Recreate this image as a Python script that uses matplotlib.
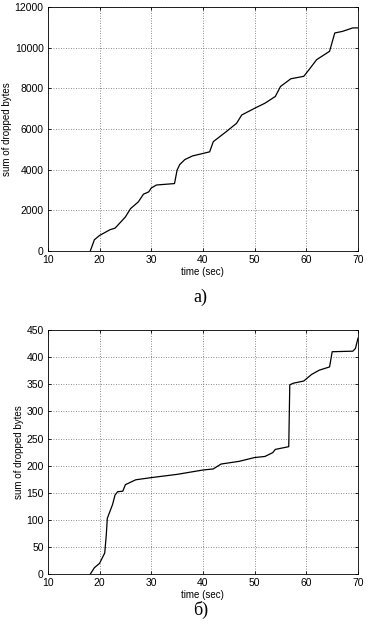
import matplotlib.pyplot as plt

# ---------------------------------------------------------
# data
# ---------------------------------------------------------
time_a = [18.2, 19.0, 20.0, 22.0, 23.0, 25.0, 26.0, 27.5, 28.5, 29.5, 30.0,
          31.0, 34.5, 35.0, 35.5, 36.5, 38.0, 40.0, 41.3, 42.0, 44.5, 46.5,
          47.5, 50.0, 52.0, 54.0, 55.0, 57.0, 59.5, 60.5, 62.0, 64.5, 65.5,
          67.0, 69.0, 70.0]
dropped_a = [0, 560, 770, 1050, 1130, 1680, 2090, 2420, 2800, 2910, 3100,
             3250, 3320, 3980, 4250, 4500, 4680, 4800, 4880, 5380, 5870, 6280,
             6690, 7020, 7270, 7600, 8090, 8470, 8590, 8910, 9410, 9820, 10720,
             10800, 10970, 10970]

time_b = [18.2, 19.0, 20.0, 21.0, 21.3, 21.5, 22.5, 23.0, 23.5, 24.5, 25.0,
          27.0, 30.0, 35.0, 40.0, 42.0, 43.5, 47.0, 50.0, 52.0, 53.5, 54.0,
          56.6, 56.8, 57.5, 59.5, 61.0, 62.5, 64.5, 65.0, 69.0, 69.5, 70.0]
dropped_b = [0, 12, 20, 39, 72, 103, 128, 146, 152, 153, 165,
             174, 178, 184, 192, 194, 203, 208, 215, 217, 224, 230,
             235, 349, 352, 356, 368, 376, 382, 410, 411, 416, 435]

panels = [
    (time_a, dropped_a, [0, 12000], range(0, 12001, 2000), "a)"),
    (time_b, dropped_b, [0, 450], range(0, 451, 50), "б)"),
]

# ---------------------------------------------------------
# plotting
# ---------------------------------------------------------
plt.rcParams["font.family"] = ["Liberation Sans", "DejaVu Sans"]

fig = plt.figure(figsize=(3.71, 6.31), dpi=100)
fig.patch.set_facecolor("white")

rects = [[0.129, 0.602, 0.836, 0.387], [0.129, 0.090, 0.836, 0.387]]
caption_y = [0.529, 0.033]

for (t, s, ylim, yticks, cap), rect, cy in zip(panels, rects, caption_y):
    ax = fig.add_axes(rect)
    ax.plot(t, s, color="black", linewidth=0.9)
    ax.set_xlim(10, 70)
    ax.set_ylim(*ylim)
    ax.set_xticks(range(10, 71, 10))
    ax.set_yticks(list(yticks))
    ax.grid(True, linestyle=(0, (1, 2)), color="#666666", linewidth=0.6)
    ax.tick_params(labelsize=7.5, length=2, width=0.6, direction="in",
                   top=True, right=True)
    ax.tick_params(axis="x", pad=3)
    ax.tick_params(axis="y", pad=3)
    for sp in ax.spines.values():
        sp.set_linewidth(0.6)
    ax.set_xlabel("time (sec)", fontsize=7, labelpad=1)
    ax.set_ylabel("sum of dropped bytes", fontsize=7, labelpad=2)
    fig.text(0.54, cy, cap, ha="center", va="center", fontsize=13,
             family="Liberation Serif")

fig.savefig("out.png", dpi=100)
